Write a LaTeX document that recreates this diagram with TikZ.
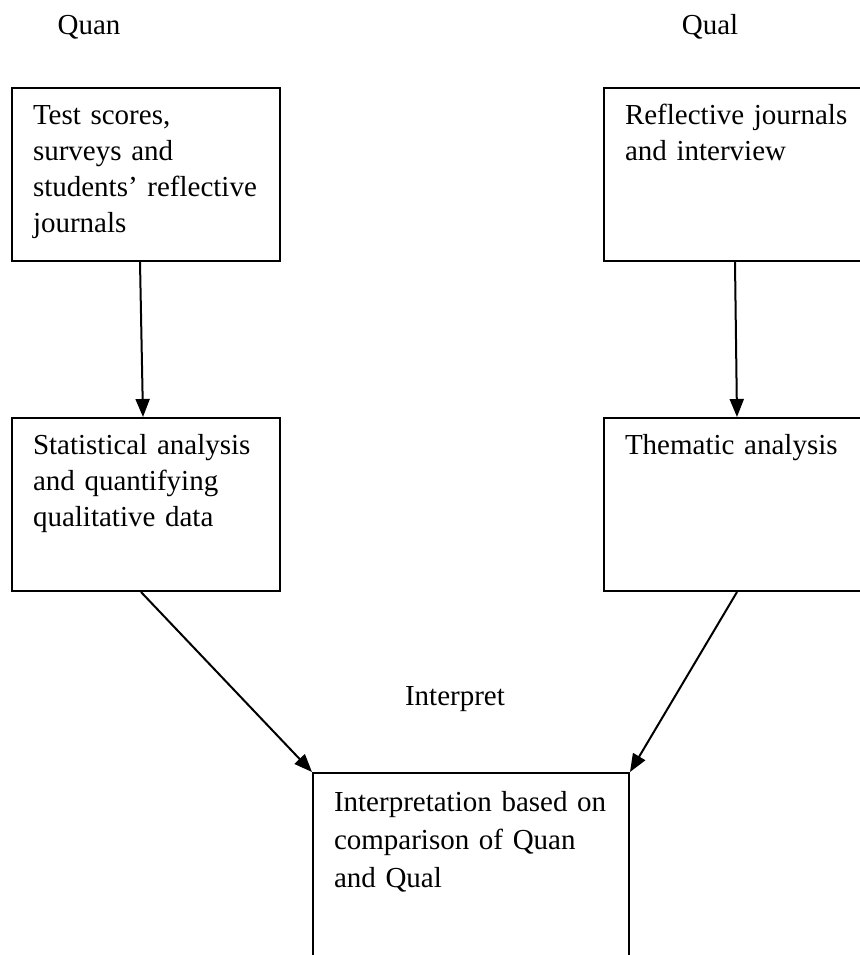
\documentclass[tikz,border=0pt]{standalone}
\usepackage{fontspec}
\setmainfont{Liberation Serif}
\usetikzlibrary{arrows.meta}
\usetikzlibrary{positioning}

\begin{document}
\begin{tikzpicture}[x=0.5pt,y=-0.5pt,font=\fontsize{14.5}{18}\selectfont]
	\useasboundingbox (0,0) rectangle (860,955);
	\clip (0,0) rectangle (860,955);
	% headings
	\node[anchor=base] (quan) at (89,34) {Quan};
	\node[anchor=base] (qual) at (710,34) {Qual};
	\node[anchor=base] (interp) at (455,705) {Interpret};
	% boxes
	\begin{scope}[every node/.style={draw, line width=1pt, anchor=north west, align=left,
	              inner xsep=10.5pt, inner ysep=0pt, text height=18pt, text depth=68.5pt}]
		\node[text width=113pt] (data1) at (11,87) {Test scores,\\surveys and\\students' reflective\\journals};
		\node[text width=119pt] (data2) at (603,87) {Reflective journals\\and interview};
		\node[text width=113pt] (anal1) at (11,417) {Statistical analysis\\and quantifying\\qualitative data};
		\node[text width=119pt] (anal2) at (603,417) {Thematic analysis};
		\node[text width=137pt, text height=19pt, text depth=100pt,
		      font=\fontsize{14.5}{19}\selectfont] (result) at (312,772) {Interpretation based on\\comparison of Quan\\and Qual};
	\end{scope}
	% arrows
	\begin{scope}[>={Triangle[length=9pt,width=7pt]}, line width=1pt]
		\draw[->] ([xshift=64.5pt]data1.south west) -- ([xshift=66pt]anal1.north west);
		\draw[->] ([xshift=66pt]data2.south west) -- ([xshift=67pt]anal2.north west);
		\draw[->] ([xshift=65pt]anal1.south west) -- (result.north west);
		\draw[->] ([xshift=67pt]anal2.south west) -- (result.north east);
	\end{scope}
\end{tikzpicture}
\end{document}
